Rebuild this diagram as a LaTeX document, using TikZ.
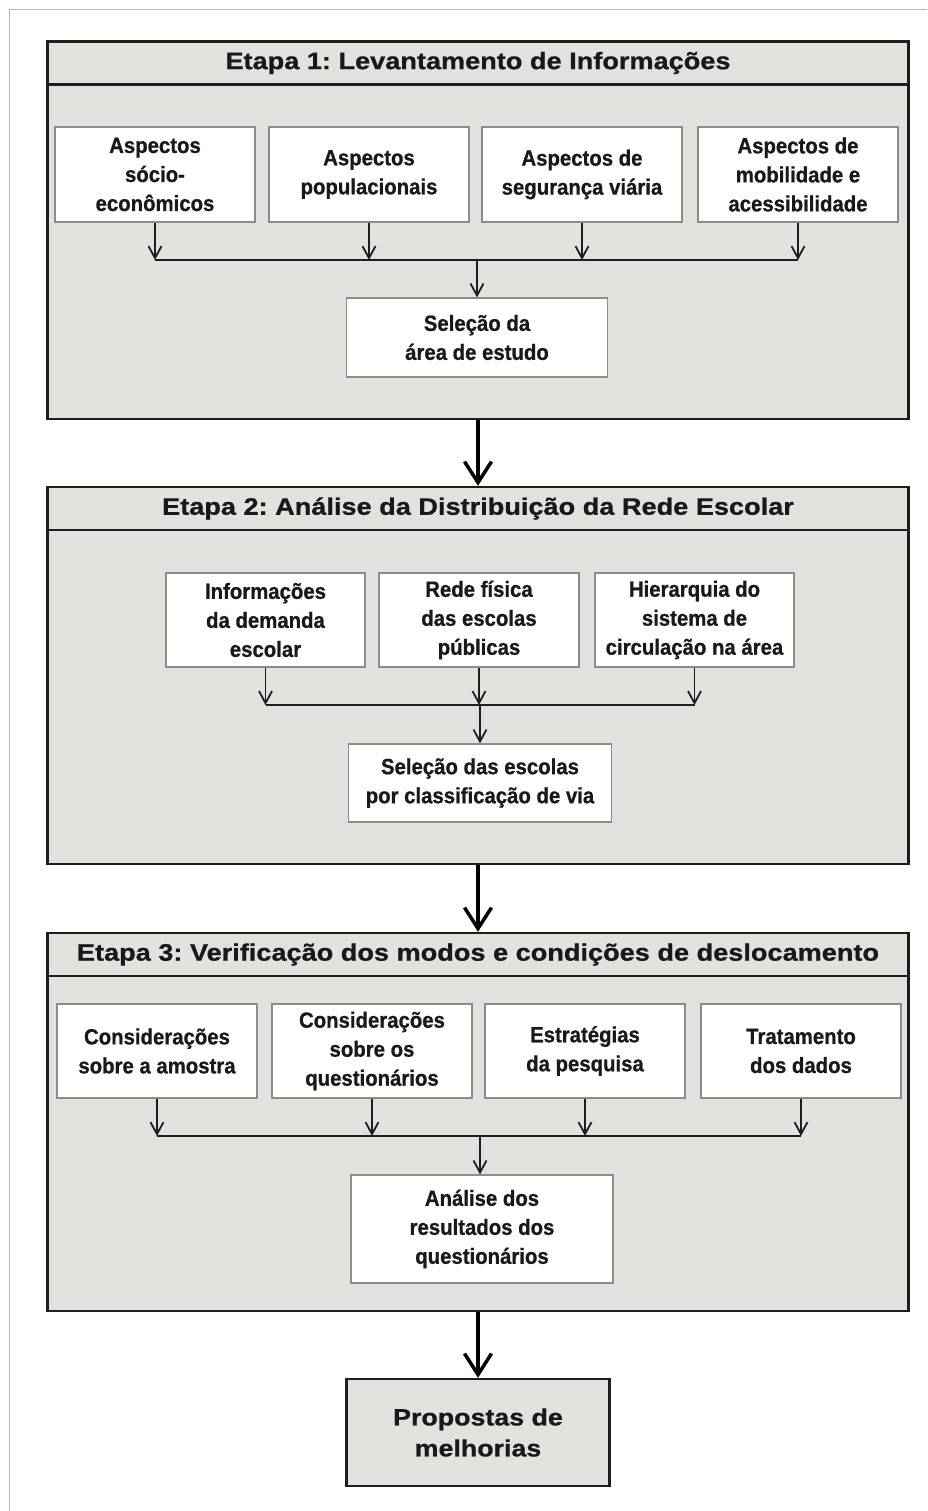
\documentclass[tikz,border=0pt]{standalone}
\usepackage{fontspec}
\setmainfont{Liberation Sans}
\newfontfamily\headfont[FakeStretch=1.14, BoldFeatures={FakeBold=0.8}]{Liberation Sans}
\newfontfamily\boxfont[FakeStretch=0.925, BoldFeatures={FakeBold=0.8}]{Liberation Sans}
\frenchspacing
\usetikzlibrary{arrows.meta}
\definecolor{stagefill}{RGB}{225,225,222}
\definecolor{stageline}{RGB}{30,30,30}
\definecolor{boxline}{RGB}{140,140,140}
\definecolor{frameline}{RGB}{180,180,180}
\definecolor{textcol}{RGB}{25,25,25}
\tikzset{
  stagebox/.style={draw=stageline, line width=2.4pt, fill=stagefill, minimum width=861pt, inner sep=0pt},
  headbox/.style={draw=stageline, line width=2.4pt, fill=stagefill, minimum width=861pt, minimum height=43pt, inner sep=0pt,
    font=\headfont\fontsize{23.8}{30}\selectfont\bfseries, text=textcol},
  ibox/.style={draw=boxline, line width=1.2pt, fill=white, align=center, inner sep=0pt,
    font=\boxfont\fontsize{22}{29}\selectfont\bfseries, text=textcol},
  finalbox/.style={draw=stageline, line width=2.4pt, fill=stagefill, align=center, inner sep=0pt,
    font=\headfont\fontsize{23.5}{31}\selectfont\bfseries, text=textcol},
  smallarrow/.style={line width=1.8pt, draw=stageline, -{Straight Barb[length=12pt,width=13pt,line width=1.8pt]}},
  junction/.style={line width=1.8pt, draw=stageline},
  bigarrow/.style={line width=3.5pt, draw=black, -{Straight Barb[length=21pt,width=27pt,line width=3.5pt]}}
}
\begin{document}
\begin{tikzpicture}[x=1pt,y=-1pt]
\useasboundingbox (0,0) rectangle (927,1511);
\fill[white] (0,0) rectangle (927,1511);
% page frame
\draw[frameline, line width=0.8pt] (9.5,1511) -- (9.5,9.5) -- (927,9.5);

% ---------- Stage 1 ----------
\node[stagebox, minimum height=377pt] (s1) at (478,230.5) {};
\node[headbox] (h1) at (478,63) {Etapa 1: Levantamento de Informações};
\node[ibox, minimum width=200pt, minimum height=95pt] (a1) at (155,174.5) {Aspectos\\sócio-\\econômicos};
\node[ibox, minimum width=200pt, minimum height=95pt] (a2) at (369,174.5) {Aspectos\\populacionais};
\node[ibox, minimum width=200pt, minimum height=95pt] (a3) at (582,174.5) {Aspectos de\\segurança viária};
\node[ibox, minimum width=200pt, minimum height=95pt] (a4) at (798,174.5) {Aspectos de\\mobilidade e\\acessibilidade};
\node[ibox, minimum width=261pt, minimum height=79pt] (sel1) at (477,337.5) {Seleção da\\área de estudo};
\coordinate (j1) at (477,260);
\draw[smallarrow] (a1.south) -- (a1.south |- j1);
\draw[smallarrow] (a2.south) -- (a2.south |- j1);
\draw[smallarrow] (a3.south) -- (a3.south |- j1);
\draw[smallarrow] (a4.south) -- (a4.south |- j1);
\draw[junction] (a1.south |- j1) -- (a4.south |- j1);
\draw[smallarrow] (j1) -- (sel1.north);

% ---------- Stage 2 ----------
\node[stagebox, minimum height=377pt] (s2) at (478,675.5) {};
\node[headbox] (h2) at (478,508.5) {Etapa 2: Análise da Distribuição da Rede Escolar};
\node[ibox, minimum width=199pt, minimum height=94pt] (b1) at (265.5,620) {Informações\\da demanda\\escolar};
\node[ibox, minimum width=200pt, minimum height=94pt] (b2) at (479,620) {Rede física\\das escolas\\públicas};
\node[ibox, minimum width=199pt, minimum height=94pt] (b3) at (694.5,620) {Hierarquia do\\sistema de\\circulação na área};
\node[ibox, minimum width=263pt, minimum height=78pt] (sel2) at (480,783) {Seleção das escolas\\por classificação de via};
\coordinate (j2) at (480,705);
\draw[smallarrow] (b1.south) -- (b1.south |- j2);
\draw[smallarrow] (b2.south) -- (b2.south |- j2);
\draw[smallarrow] (b3.south) -- (b3.south |- j2);
\draw[junction] (b1.south |- j2) -- (b3.south |- j2);
\draw[smallarrow] (j2) -- (sel2.north);

% ---------- Stage 3 ----------
\node[stagebox, minimum height=378pt] (s3) at (478,1122) {};
\node[headbox] (h3) at (478,954.5) {Etapa 3: Verificação dos modos e condições de deslocamento};
\node[ibox, minimum width=200pt, minimum height=94pt] (c1) at (157,1051) {Considerações\\sobre a amostra};
\node[ibox, minimum width=200pt, minimum height=94pt] (c2) at (372,1051) {Considerações\\sobre os\\questionários};
\node[ibox, minimum width=200pt, minimum height=94pt] (c3) at (585,1051) {Estratégias\\da pesquisa};
\node[ibox, minimum width=200pt, minimum height=94pt] (c4) at (801,1051) {Tratamento\\dos dados};
\node[ibox, minimum width=262pt, minimum height=108pt] (an) at (482,1229) {Análise dos\\resultados dos\\questionários};
\coordinate (j3) at (480,1136);
\draw[smallarrow] (c1.south) -- (c1.south |- j3);
\draw[smallarrow] (c2.south) -- (c2.south |- j3);
\draw[smallarrow] (c3.south) -- (c3.south |- j3);
\draw[smallarrow] (c4.south) -- (c4.south |- j3);
\draw[junction] (c1.south |- j3) -- (c4.south |- j3);
\draw[smallarrow] (j3) -- (j3 |- an.north);

% ---------- Final ----------
\node[finalbox, minimum width=263pt, minimum height=107pt] (fin) at (478,1432.5) {Propostas de\\melhorias};

% ---------- Big arrows ----------
\draw[bigarrow] (s1.south) -- (h2.north);
\draw[bigarrow] (s2.south) -- (h3.north);
\draw[bigarrow] (s3.south) -- (fin.north);
\end{tikzpicture}
\end{document}
